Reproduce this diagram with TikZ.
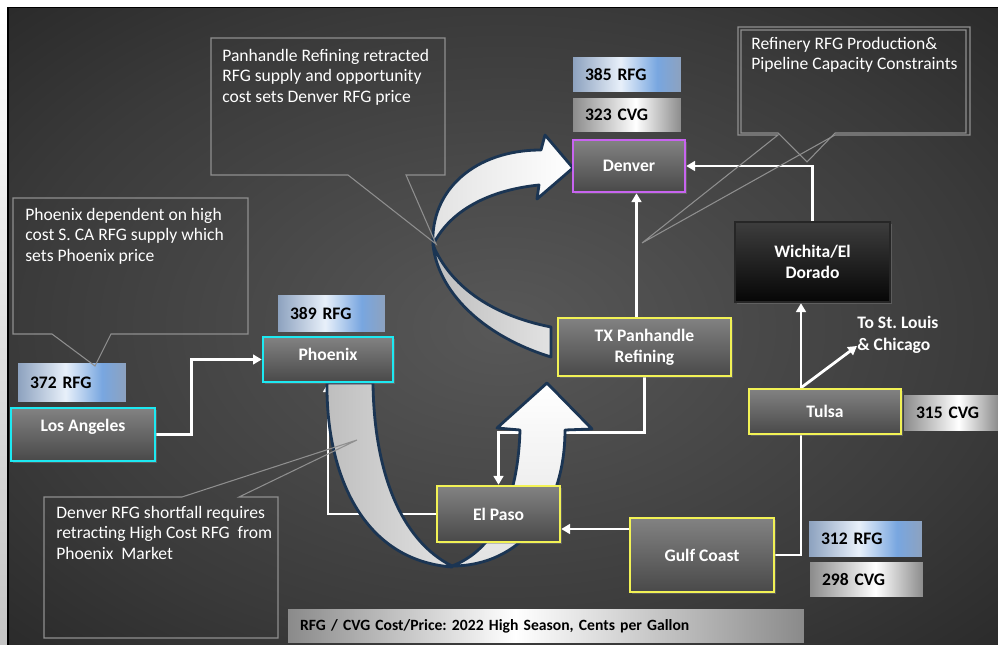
\documentclass[tikz,border=0pt]{standalone}
\usepackage{fontspec}
\setmainfont{Carlito}
\frenchspacing
\usetikzlibrary{arrows.meta, positioning, calc, shadows}
\definecolor{bgmid}{HTML}{585858}
\definecolor{bgside}{HTML}{3A3A3A}
\definecolor{bgedge}{HTML}{2A2A2A}
\definecolor{edgegray}{HTML}{C4C4C4}
\definecolor{hubtop}{HTML}{828282}
\definecolor{hubbot}{HTML}{494949}
\definecolor{hubcyan}{HTML}{1DE9F2}
\definecolor{hubyellow}{HTML}{F2F255}
\definecolor{hubpurple}{HTML}{C864F0}
\definecolor{wictop}{HTML}{3D3D3D}
\definecolor{wicbot}{HTML}{060606}
\definecolor{wicline}{HTML}{262626}
\definecolor{rfgside}{HTML}{8DA2BF}
\definecolor{rfglite}{HTML}{E8F0FA}
\definecolor{rfgblue}{HTML}{78A6E0}
\definecolor{cvgside}{HTML}{8C8C8C}
\definecolor{barside}{HTML}{8A8A8A}
\definecolor{ribnavy}{HTML}{1B3553}
\definecolor{ribgray}{HTML}{BEBEBE}
\definecolor{ribpale}{HTML}{E2E2E2}
\definecolor{notegray}{HTML}{8F8F8F}

\pgfdeclareradialshading{bgglow}{\pgfpoint{0bp}{0bp}}{color(0bp)=(bgmid); color(25bp)=(bgside); color(36bp)=(bgedge); color(50bp)=(bgedge)}
\pgfdeclarehorizontalshading{rfgshade}{100bp}{color(0bp)=(rfgside); color(25bp)=(rfgside); color(47bp)=(rfglite); color(64bp)=(rfgblue); color(75bp)=(rfgside); color(100bp)=(rfgside)}
\pgfdeclarehorizontalshading{cvgshade}{100bp}{color(0bp)=(cvgside); color(25bp)=(cvgside); color(54bp)=(white); color(75bp)=(cvgside); color(100bp)=(cvgside)}
\pgfdeclarehorizontalshading{barshade}{100bp}{color(0bp)=(barside); color(25bp)=(barside); color(47bp)=(white); color(75bp)=(barside); color(100bp)=(barside)}

\pgfdeclarelayer{back}
\pgfdeclarelayer{ribbons}
\pgfsetlayers{back,ribbons,main}

\tikzset{
  hub/.style={draw, line width=1.4pt, top color=hubtop, bottom color=hubbot, text=white,
    font=\bfseries\fontsize{10}{12}\selectfont, align=center, inner sep=0pt,
    drop shadow={shadow xshift=1.2pt, shadow yshift=-1.2pt, opacity=0.45}},
  tag/.style={text=black, font=\bfseries\fontsize{10}{12}\selectfont, align=left,
    inner xsep=0.24cm, inner ysep=0pt},
  rfgtag/.style={tag, shade, shading=rfgshade},
  cvgtag/.style={tag, shade, shading=cvgshade},
  note/.style={text=white, font=\fontsize{10}{11.6}\selectfont, align=left, inner sep=0pt, anchor=north west},
  noteline/.style={draw=notegray, line width=0.6pt},
  flow/.style={draw=white, line width=1.6pt, -{Triangle[length=5pt, width=5.5pt]}},
  link/.style={draw=white, line width=1.6pt},
  ribbon/.style={draw=ribnavy, line width=1.6pt, line join=round}
}

\begin{document}
\begin{tikzpicture}[x=0.02cm, y=-0.02cm]
\useasboundingbox (0,0) rectangle (998,645);

% Hubs and price tags
\node[hub, draw=hubpurple, minimum width=2.24cm, minimum height=1.04cm] (denver) at (629,166) {Denver};
\node[rfgtag, text width=1.68cm, minimum height=0.7cm] (denrfg) at (627,74.5) {385 RFG};
\node[cvgtag, text width=1.68cm, minimum height=0.68cm] (dencvg) at (627,115) {323 CVG};

\node[hub, draw=hubcyan, minimum width=2.6cm, minimum height=0.9cm, text depth=6pt] (phx) at (328,359.5) {Phoenix};
\node[rfgtag, text width=1.66cm, minimum height=0.74cm] (phxrfg) at (331.5,313.5) {389 RFG};

\node[hub, draw=hubcyan, minimum width=2.88cm, minimum height=1.06cm, text depth=10.5pt] (lax) at (83,434.5) {Los Angeles};
\node[rfgtag, text width=1.68cm, minimum height=0.78cm] (laxrfg) at (72,382.5) {372 RFG};

\node[hub, draw=hubyellow, minimum width=3.46cm, minimum height=1.16cm] (txp) at (644.5,347) {TX Panhandle\\Refining};
\node[hub, draw=wicline, top color=wictop, bottom color=wicbot, minimum width=3.1cm, minimum height=1.6cm] (wic) at (812.5,262) {Wichita/El\\Dorado};

\node[hub, draw=hubyellow, minimum width=3.04cm, minimum height=0.9cm] (tulsa) at (825,411.5) {Tulsa};
\node[cvgtag, text width=1.4cm, minimum height=0.72cm] (tulcvg) at (951,413) {315 CVG};
\node[text=white, font=\bfseries\fontsize{10}{12.5}\selectfont, align=left, inner sep=0pt, anchor=north west] (stl) at (857,316) {To St. Louis\\\& Chicago};

\node[hub, draw=hubyellow, minimum width=2.46cm, minimum height=1.12cm] (elp) at (498.5,514) {El Paso};
\node[hub, draw=hubyellow, minimum width=2.88cm, minimum height=1.48cm] (gulf) at (702,555) {Gulf Coast};
\node[rfgtag, text width=1.78cm, minimum height=0.72cm] (gulfrfg) at (865.5,539) {312 RFG};
\node[cvgtag, text width=1.78cm, minimum height=0.7cm] (gulfcvg) at (866.5,579.5) {298 CVG};

% Legend bar
\node[tag, shade, shading=barshade, font=\bfseries\fontsize{8.9}{11}\selectfont, text width=9.84cm, minimum height=0.68cm] (legend) at (546,626)
  {RFG / CVG Cost/Price: 2022 High Season, Cents per Gallon};

% Background and pipelines
\begin{pgfonlayer}{back}
\fill[white] (0,0) rectangle (998,645);
\shade[top color=white, bottom color=edgegray] (0,7) rectangle (7,645);
\fill[black] (7,7) rectangle (998,645);
\shade[shading=bgglow] (9,9) rectangle (998,645);

\draw[flow] (lax.east) -- ++(35,0) |- (phx.west);
\draw[flow] ($(txp.north)+(-8,0)$) coordinate (t1) -- (t1 |- denver.south);
\draw[flow] (wic.north) |- (denver.east);
\draw[flow] ($(tulsa.north)+(-24,0)$) coordinate (u1) -- (u1 |- wic.south);
\draw[flow] (u1) -- ($(stl.south west)+(0,-8)$);
\draw[link] (gulf.east) -| ($(tulsa.south)+(-24,0)$);
\coordinate (e1) at ($(elp.east)+(0,15)$);
\draw[flow] (gulf.west |- e1) -- (e1);
\draw[flow] (txp.south) -- ++(0,55) -| (elp.north);
\draw[flow] (elp.west) -| (phx.south);
\end{pgfonlayer}

% Ribbon arrows
\begin{pgfonlayer}{ribbons}
% Panhandle -> Denver, back face then front face
\shade[ribbon, left color=ribgray, right color=ribpale] (433,245) .. controls (438,290) and (480,335) .. (551,357)
  -- (551,327) .. controls (490,315) and (450,285) .. (433,245) -- cycle;
\shade[ribbon, left color=ribpale, right color=white] (433,245) .. controls (430,190) and (475,150) .. (541,150)
  -- (545,135) -- (573,168) -- (537,199) -- (539,185) .. controls (490,190) and (450,210) .. (433,245) -- cycle;
% Phoenix -> Panhandle
\shade[ribbon, left color=ribgray, right color=ribpale] (452,567) .. controls (360,560) and (326,470) .. (327,383)
  -- (373,383) .. controls (374,470) and (400,540) .. (452,566) -- cycle;
\shade[ribbon, top color=white, bottom color=ribpale] (452,566) .. controls (520,566) and (565,510) .. (565,430)
  -- (592,429) -- (547,383) -- (497,428) -- (520,430) .. controls (518,500) and (495,550) .. (452,566) -- cycle;
\end{pgfonlayer}

% Callouts
\draw[noteline] (211,38) -- (445,38) -- (445,175) -- (406,175) -- (436,244) -- (348,175) -- (211,175) -- cycle;
\node[note] (pancall) at (222,49) {Panhandle Refining retracted\\RFG supply and opportunity\\cost sets Denver RFG price};

\draw[noteline] (13,198) -- (248,198) -- (248,334) -- (111,334) -- (95,366) -- (52,334) -- (13,334) -- cycle;
\node[note] (phxcall) at (25,208) {Phoenix dependent on high\\cost S. CA RFG supply which\\sets Phoenix price};

\draw[noteline] (44,497) -- (182,497) -- (357,440) -- (239,497) -- (278,497) -- (278,638) -- (44,638) -- cycle;
\node[note] (dencall) at (56,506) {Denver RFG shortfall requires\\retracting High Cost RFG\ \ from\\Phoenix\ \ Market};

\draw[noteline] (738,27) -- (970,27) -- (970,135) -- (835,135) -- (642,243) -- (778,135) -- (738,135) -- cycle;
\draw[noteline] (741,30) -- (966,30) -- (966,133) -- (835,133) -- (807,162) -- (778,133) -- (741,133) -- cycle;
\node[note] (refcall) at (751,37) {Refinery RFG Production\&\\Pipeline Capacity Constraints};

\end{tikzpicture}
\end{document}
